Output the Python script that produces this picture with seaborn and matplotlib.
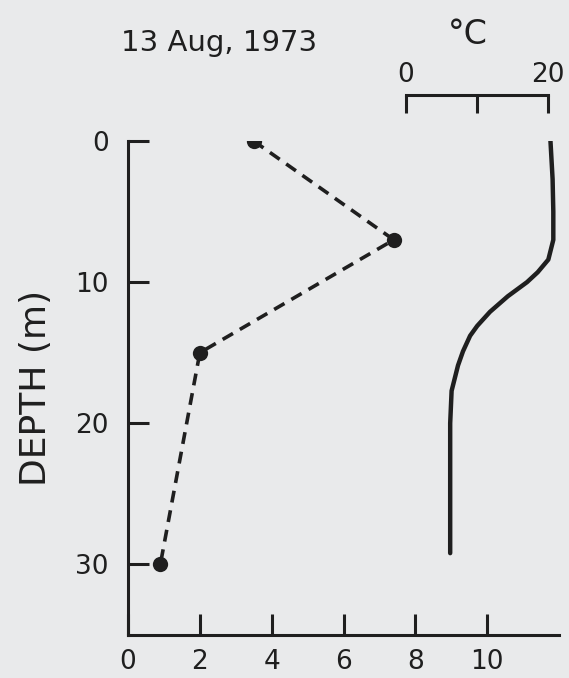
import matplotlib.pyplot as plt
import seaborn as sns

# ── DATA ───────────────────────────────────────────────────────
sample_depth = [0, 7, 15, 30]
sample_value = [3.5, 7.4, 2.0, 0.9]

temp_depth = [0, 2.7, 5, 7, 8.4, 9.3, 10, 11, 12.1, 13.1, 13.8, 14.9, 15.9, 17.7, 20, 25, 29.2]
temp_c = [20.3, 20.6, 20.7, 20.7, 20.0, 18.5, 17.0, 14.3, 11.8, 10.0, 9.0, 8.0, 7.3, 6.4, 6.2, 6.2, 6.2]

title = "13 Aug, 1973"
value_ticks = [0, 2, 4, 6, 8, 10]
depth_ticks = [0, 10, 20, 30]
temp_ticks = [0, 10, 20]
temp_ticklabels = ["0", "", "20"]

paper = "#e9eaeb"
ink = "#1f1f1f"

# ── STYLE ──────────────────────────────────────────────────────
sns.set_theme(style="ticks")
plt.rcParams["font.family"] = ["DejaVu Sans"]
plt.rcParams["text.color"] = ink
plt.rcParams["axes.labelcolor"] = ink
plt.rcParams["xtick.color"] = ink
plt.rcParams["ytick.color"] = ink

fig = plt.figure(figsize=(5.69, 6.78), dpi=100, facecolor=paper)
ax = fig.add_axes([128 / 569, 0.0634, 431 / 569, 0.7286])
ax.set_facecolor(paper)

# ── dashed profile on the bottom scale ─────────────────────────
sns.lineplot(x=sample_value, y=sample_depth, sort=False, estimator=None, ax=ax,
             color=ink, lw=2.6, linestyle=(0, (3.3, 2.2)),
             marker="o", markersize=11, markeredgewidth=0, markerfacecolor=ink)

ax.set_xlim(0, 12)
ax.set_ylim(35, 0)
ax.set_xticks(value_ticks)
ax.set_xticklabels([str(v) for v in value_ticks])
ax.set_yticks(depth_ticks)
ax.set_yticklabels([str(v) for v in depth_ticks])
ax.tick_params(axis="both", direction="in", length=15, width=2.2, labelsize=19)
ax.tick_params(axis="x", pad=10)
ax.tick_params(axis="y", pad=14)
ax.set_xlabel("")
ax.set_ylabel("DEPTH (m)", fontsize=26, labelpad=16)
for side in ["top", "right"]:
    ax.spines[side].set_visible(False)
for side in ["left", "bottom"]:
    ax.spines[side].set_linewidth(2.2)
    ax.spines[side].set_color(ink)

# ── temperature curve on its own short top scale ───────────────
ax2 = ax.twiny()
sns.lineplot(x=temp_c, y=temp_depth, sort=False, estimator=None, ax=ax2,
             color=ink, lw=3.2, solid_capstyle="round")
ax2.set_xlim(-39.1, 21.5)
ax2.set_ylim(35, 0)
ax2.set_xticks(temp_ticks)
ax2.set_xticklabels(temp_ticklabels)
ax2.set_xlabel("")
ax2.set_ylabel("")
ax2.tick_params(axis="x", direction="in", length=13, width=2.2, labelsize=19, pad=5)
for side in ["left", "right", "bottom"]:
    ax2.spines[side].set_visible(False)
ax2.spines["top"].set_bounds(0, 20)
ax2.spines["top"].set_position(("outward", 33))
ax2.spines["top"].set_linewidth(2.2)
ax2.spines["top"].set_color(ink)

# ── texts ──────────────────────────────────────────────────────
fig.text(219 / 569, 1 - 43 / 678, title, ha="center", va="center", fontsize=21)
fig.text(468 / 569, 1 - 35 / 678, "°C", ha="center", va="center", fontsize=24)

fig.savefig("out.png", dpi=100, facecolor=paper)
